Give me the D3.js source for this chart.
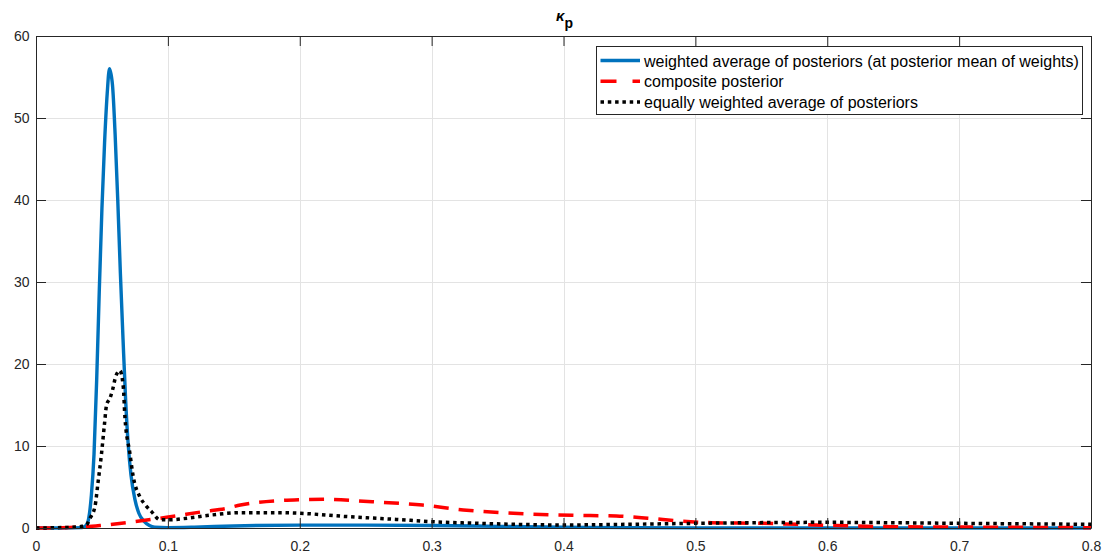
<!DOCTYPE html>
<html>
<head>
<meta charset="utf-8">
<script src="https://cdn.jsdelivr.net/npm/d3@7"></script>
<style>
  body { margin: 0; background: #fff; }
  text { font-family: "Liberation Sans", Arial, sans-serif; }
</style>
</head>
<body>
<svg id="chart"></svg>
<script>
// Chart size
const width = 1105;
const height = 554;

// Tick values
const xTicks = [0, 0.1, 0.2, 0.3, 0.4, 0.5, 0.6, 0.7, 0.8];
const yTicks = [0, 10, 20, 30, 40, 50, 60];

// Series names
const seriesNames = [
  "weighted average of posteriors (at posterior mean of weights)",
  "composite posterior",
  "equally weighted average of posteriors"
];

// weighted average of posteriors
const weightedX = [0, 0.02, 0.035, 0.038, 0.040, 0.042, 0.044, 0.046, 0.048, 0.050, 0.052, 0.054, 0.0557, 0.058, 0.060, 0.062, 0.064, 0.066, 0.068, 0.070, 0.072, 0.075, 0.078, 0.082, 0.086, 0.09, 0.10, 0.12, 0.15, 0.2, 0.25, 0.3, 0.35, 0.4, 0.45, 0.5, 0.8];
const weightedY = [0, 0, 0.05, 0.3, 1.2, 4, 9, 18, 29, 39, 47, 53, 56, 54, 48, 40, 31, 23, 15.5, 10, 6.5, 3.5, 1.8, 0.8, 0.3, 0.1, 0.05, 0.1, 0.25, 0.35, 0.35, 0.3, 0.2, 0.1, 0.05, 0.02, 0];

// composite posterior
const compositeX = [0, 0.02, 0.033, 0.0485, 0.074, 0.099, 0.127, 0.1445, 0.155, 0.185, 0.2, 0.218, 0.255, 0.293, 0.324, 0.362, 0.407, 0.44, 0.464, 0.489, 0.512, 0.55, 0.6, 0.65, 0.7, 0.8];
const compositeY = [0, 0.02, 0.1, 0.3, 0.77, 1.3, 2.0, 2.4, 2.8, 3.35, 3.45, 3.5, 3.2, 2.8, 2.2, 1.8, 1.55, 1.46, 1.2, 0.85, 0.65, 0.57, 0.33, 0.16, 0.12, 0.04];

// equally weighted average of posteriors
const equalX = [0, 0.02, 0.035, 0.0384, 0.041, 0.0447, 0.047, 0.0497, 0.052, 0.0535, 0.056, 0.058, 0.0605, 0.0636, 0.0662, 0.0674, 0.0712, 0.0737, 0.0788, 0.083, 0.0876, 0.094, 0.1015, 0.115, 0.134, 0.155, 0.185, 0.2, 0.235, 0.273, 0.3, 0.336, 0.4, 0.45, 0.5, 0.6, 0.7, 0.8];
const equalY = [0, 0.05, 0.2, 0.4, 1.2, 2.6, 5.5, 9.1, 12.8, 15.0, 15.8, 16.8, 18.5, 19.2, 17.2, 13.6, 9.1, 6.3, 3.8, 2.8, 2.0, 1.0, 1.0, 1.2, 1.6, 1.87, 1.87, 1.8, 1.4, 1.05, 0.77, 0.57, 0.37, 0.45, 0.57, 0.69, 0.57, 0.45];

const margin = { top: 36, right: 14, bottom: 26, left: 36 };
const axisColor = "#262626";

const xScale = d3.scaleLinear().domain([0, 0.8]).range([margin.left, width - margin.right]);
const yScale = d3.scaleLinear().domain([0, 60]).range([height - margin.bottom, margin.top]);

const svg = d3.select("#chart").attr("width", width).attr("height", height);

// Grid lines
const grid = svg.append("g").attr("stroke", "#e3e3e3").attr("stroke-width", 1);
grid.selectAll(".gx").data(xTicks.slice(1, -1)).enter().append("line")
  .attr("x1", d => Math.round(xScale(d)) + 0.5).attr("x2", d => Math.round(xScale(d)) + 0.5)
  .attr("y1", yScale(0)).attr("y2", yScale(60));
grid.selectAll(".gy").data(yTicks.slice(1, -1)).enter().append("line")
  .attr("y1", d => Math.round(yScale(d)) + 0.5).attr("y2", d => Math.round(yScale(d)) + 0.5)
  .attr("x1", xScale(0)).attr("x2", xScale(0.8));

// Lines
const series = [
  { xs: weightedX, ys: weightedY, color: "#0072bd", w: 3.4, dash: null },
  { xs: compositeX, ys: compositeY, color: "#ff0000", w: 3.5, dash: "15,10" },
  { xs: equalX, ys: equalY, color: "#000000", w: 3.5, dash: "3.5,3.8" }
];

const line = d3.line()
  .x(d => xScale(d[0]))
  .y(d => yScale(d[1]))
  .curve(d3.curveMonotoneX);

svg.selectAll(".series").data(series).enter().append("path")
  .attr("d", s => line(s.xs.map((x, i) => [x, s.ys[i]])))
  .attr("fill", "none")
  .attr("stroke", s => s.color)
  .attr("stroke-width", s => s.w)
  .attr("stroke-dasharray", s => s.dash)
  .attr("stroke-linejoin", "round");

// Axes (ticks inward, box on all sides)
const tickLen = 10;
const xAxis = d3.axisBottom(xScale).tickValues(xTicks).tickFormat(d3.format("~g")).tickSizeInner(-tickLen).tickSizeOuter(0).tickPadding(13);
const yAxis = d3.axisLeft(yScale).tickValues(yTicks).tickFormat(d3.format("d")).tickSizeInner(-tickLen).tickSizeOuter(0).tickPadding(6.5);
const xTop = d3.axisTop(xScale).tickValues(xTicks).tickFormat("").tickSizeInner(-tickLen).tickSizeOuter(0);
const yRight = d3.axisRight(yScale).tickValues(yTicks).tickFormat("").tickSizeInner(-tickLen).tickSizeOuter(0);

function styleAxis(g) {
  g.select(".domain").attr("stroke", axisColor);
  g.selectAll(".tick line").attr("stroke", axisColor);
  g.selectAll(".tick text").attr("fill", axisColor).style("font-size", "14px")
    .style("font-family", "'Liberation Sans', Arial, sans-serif");
}

svg.append("g").attr("transform", "translate(0," + yScale(0) + ")").call(xAxis).call(styleAxis);
svg.append("g").attr("transform", "translate(" + xScale(0) + ",0)").call(yAxis).call(styleAxis);
svg.append("g").attr("transform", "translate(0," + yScale(60) + ")").call(xTop).call(styleAxis);
svg.append("g").attr("transform", "translate(" + xScale(0.8) + ",0)").call(yRight).call(styleAxis);

// Title
const title = svg.append("text")
  .attr("x", (xScale(0) + xScale(0.8)) / 2 + 1)
  .attr("y", 21)
  .attr("text-anchor", "middle")
  .attr("fill", "#000")
  .style("font-size", "15px")
  .style("font-weight", "bold");
title.append("tspan").style("font-style", "italic").text("κ");
title.append("tspan").attr("dy", 7).style("font-size", "14px").text("p");

// Legend
const legend = svg.append("g").attr("transform", "translate(596,46)");
legend.append("rect")
  .attr("x", 0.5).attr("y", 0.5).attr("width", 486).attr("height", 68)
  .attr("fill", "#fff").attr("stroke", axisColor).attr("stroke-width", 1);

const items = legend.selectAll(".item").data(series).enter().append("g")
  .attr("transform", (d, i) => "translate(0," + (14.5 + i * 20.8) + ")");

items.append("line")
  .attr("x1", 4.5).attr("x2", 44).attr("y1", 0).attr("y2", 0)
  .attr("stroke", d => d.color)
  .attr("stroke-width", d => d.w)
  .attr("stroke-dasharray", (d, i) => i === 1 ? "16,16" : d.dash);

items.append("text")
  .attr("x", 48).attr("y", 6)
  .attr("fill", "#000")
  .style("font-size", "16px")
  .text((d, i) => seriesNames[i]);
</script>
</body>
</html>
